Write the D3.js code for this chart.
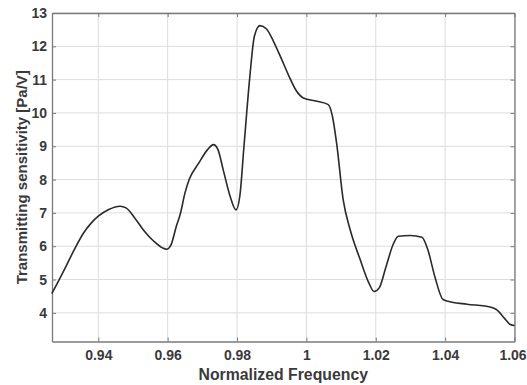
<!DOCTYPE html>
<html>
<head>
<meta charset="utf-8">
<script src="https://cdn.jsdelivr.net/npm/d3@7"></script>
<style>
  body { margin: 0; background: #fff; }
  svg text { font-family: "Liberation Sans", Arial, sans-serif; font-weight: bold; }
</style>
</head>
<body>
<div id="chart"></div>
<script>
/* global d3 */

// normalized frequency vs transmitting sensitivity
const freq = [
  0.9266, 0.9290, 0.9309, 0.9330, 0.9357, 0.9380, 0.9400, 0.9430, 0.9463, 0.9480,
  0.9505, 0.9530, 0.9560, 0.9585, 0.9597, 0.9610, 0.9625, 0.9636, 0.9650, 0.9662,
  0.9690, 0.9715, 0.9732, 0.9745, 0.9760, 0.9780, 0.9797, 0.9808, 0.9820, 0.9837,
  0.9850, 0.9866, 0.9885, 0.9905, 0.9929, 0.9950, 0.9970, 0.9991, 1.0030, 1.0063,
  1.0075, 1.0087, 1.0106, 1.0126, 1.0155, 1.0180, 1.0195, 1.0210, 1.0230, 1.0250,
  1.0265, 1.0300, 1.0333, 1.0350, 1.0370, 1.0394, 1.0420, 1.0463, 1.0535, 1.0550,
  1.0570, 1.0588, 1.0600
];
const sensitivity = [
  4.58, 5.05, 5.44, 5.88, 6.39, 6.70, 6.90, 7.10, 7.20, 7.15,
  6.85, 6.49, 6.15, 5.95, 5.91, 6.05, 6.60, 6.95, 7.60, 8.00,
  8.50, 8.90, 9.05, 8.90, 8.30, 7.50, 7.09, 7.50, 9.00, 11.10,
  12.30, 12.62, 12.52, 12.15, 11.60, 11.10, 10.68, 10.45, 10.35, 10.25,
  9.90, 9.10, 7.40, 6.50, 5.60, 4.90, 4.64, 4.75, 5.40, 6.05,
  6.30, 6.32, 6.27, 5.90, 5.10, 4.40, 4.32, 4.26, 4.16, 4.08,
  3.85, 3.65, 3.62
];
const xTicks = [0.94, 0.96, 0.98, 1, 1.02, 1.04, 1.06];
const yTicks = [4, 5, 6, 7, 8, 9, 10, 11, 12, 13];

const W = 527, H = 385;
const margin = { top: 13, right: 12.5, bottom: 43.5, left: 52 };
const iw = W - margin.left - margin.right;
const ih = H - margin.top - margin.bottom;

const svg = d3.select('#chart').append('svg')
  .attr('width', W)
  .attr('height', H);

const g = svg.append('g')
  .attr('transform', `translate(${margin.left},${margin.top})`);

const x = d3.scaleLinear().domain([0.92665, 1.06]).range([0, iw]);
const y = d3.scaleLinear().domain([3.14, 13]).range([ih, 0]);

// grid
g.append('g')
  .selectAll('line')
  .data(xTicks)
  .join('line')
  .attr('x1', (d) => x(d)).attr('x2', (d) => x(d))
  .attr('y1', 0).attr('y2', ih)
  .attr('stroke', '#dcdcdc')
  .attr('stroke-width', 1);

g.append('g')
  .selectAll('line')
  .data(yTicks)
  .join('line')
  .attr('x1', 0).attr('x2', iw)
  .attr('y1', (d) => y(d)).attr('y2', (d) => y(d))
  .attr('stroke', '#dcdcdc')
  .attr('stroke-width', 1);

// axes (ticks inward, matlab style)
const fmt = (d) => (d === 1 ? '1' : d3.format('.2f')(d));

const xAxis = g.append('g')
  .attr('transform', `translate(0,${ih})`)
  .call(d3.axisBottom(x).tickValues(xTicks).tickFormat(fmt).tickSizeInner(-4).tickSizeOuter(0).tickPadding(9));
const xTop = g.append('g')
  .call(d3.axisTop(x).tickValues(xTicks).tickFormat('').tickSizeInner(-4).tickSizeOuter(0));
const yAxis = g.append('g')
  .call(d3.axisLeft(y).tickValues(yTicks).tickSizeInner(-4).tickSizeOuter(0).tickPadding(5));
const yRight = g.append('g')
  .attr('transform', `translate(${iw},0)`)
  .call(d3.axisRight(y).tickValues(yTicks).tickFormat('').tickSizeInner(-4).tickSizeOuter(0));

[xAxis, xTop, yAxis, yRight].forEach((a) => {
  a.select('.domain').attr('stroke', '#7a7a7a').attr('stroke-width', 1.3);
  a.selectAll('.tick line').attr('stroke', '#7a7a7a');
  a.selectAll('.tick text')
    .attr('fill', '#3a3a3a')
    .style('font-size', '14px');
});

// last label sits on the picture edge
xAxis.selectAll('.tick text').filter((d) => d === 1.06).attr('dx', -2);

// curve
const pts = freq.map((f, i) => [f, sensitivity[i]]);
const line = d3.line()
  .x((d) => x(d[0]))
  .y((d) => y(d[1]))
  .curve(d3.curveMonotoneX);

g.append('path')
  .datum(pts)
  .attr('d', line)
  .attr('fill', 'none')
  .attr('stroke', '#2a2a2a')
  .attr('stroke-width', 1.6);

// labels
svg.append('text')
  .attr('x', margin.left + iw / 2)
  .attr('y', 380)
  .attr('text-anchor', 'middle')
  .attr('fill', '#3a3a3a')
  .style('font-size', '15.8px')
  .text('Normalized Frequency');

svg.append('text')
  .attr('transform', `translate(27,${margin.top + ih / 2}) rotate(-90)`)
  .attr('text-anchor', 'middle')
  .attr('fill', '#3a3a3a')
  .style('font-size', '15px')
  .text('Transmitting sensitivity [Pa/V]');
</script>
</body>
</html>
